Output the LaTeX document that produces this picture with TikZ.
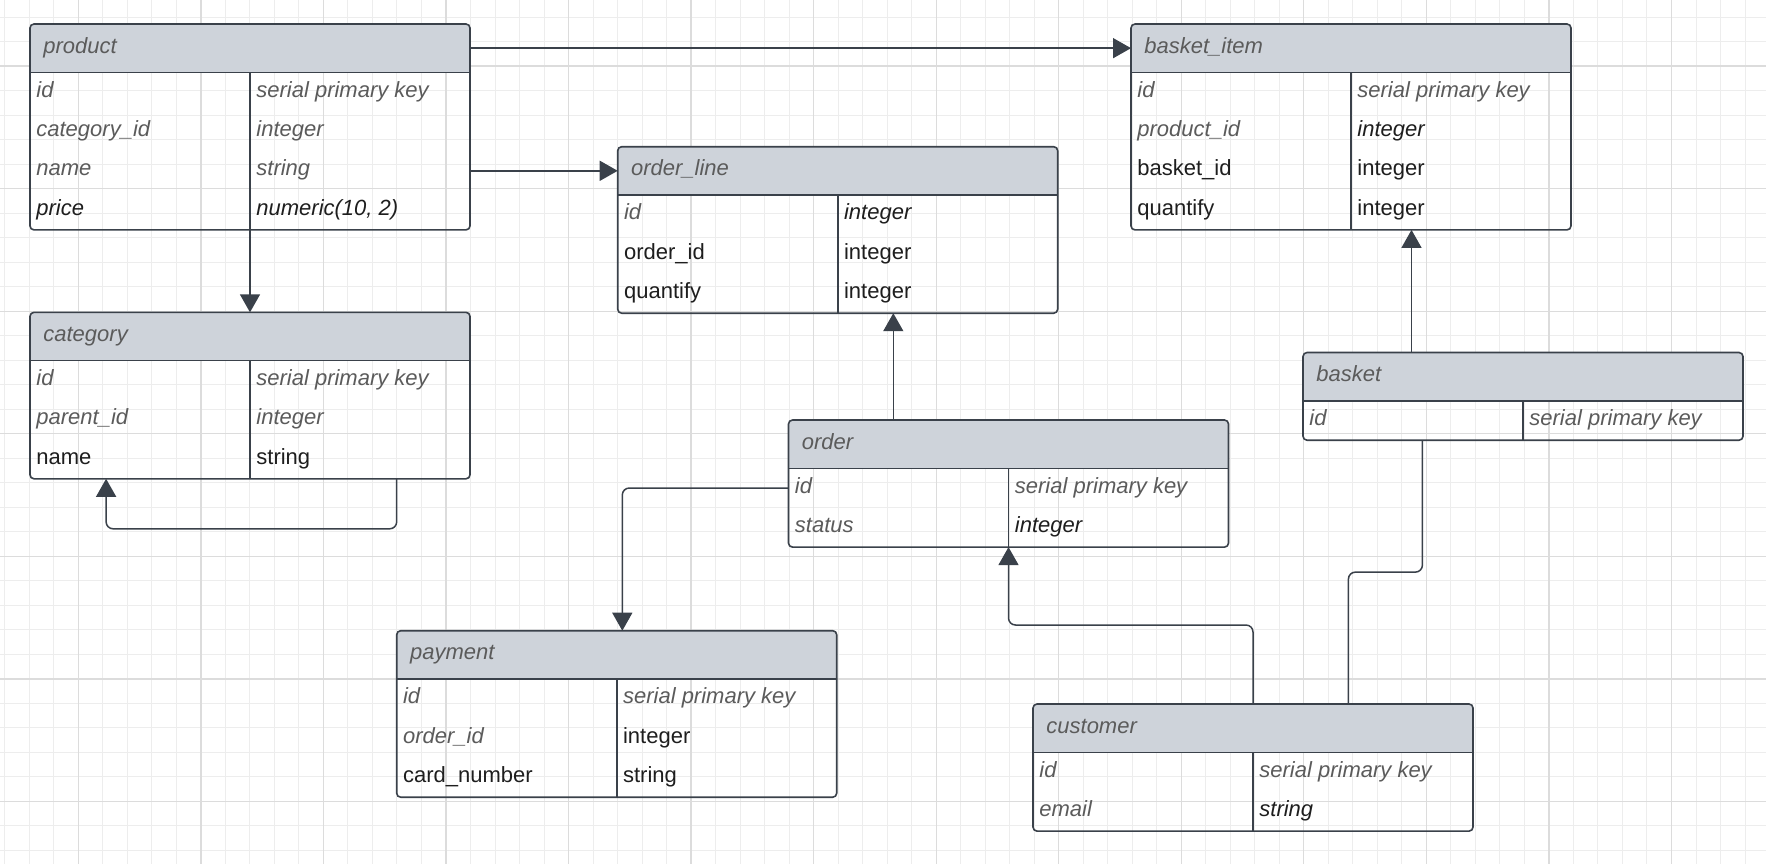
\documentclass[tikz,border=0pt]{standalone}
\usepackage{fontspec}
\setmainfont{Liberation Sans}
\usetikzlibrary{arrows.meta,calc}
\definecolor{bordc}{HTML}{3A414A}
\definecolor{hdrc}{HTML}{CED3DA}
\definecolor{gridmin}{HTML}{EDEDED}
\definecolor{gridmaj}{HTML}{DCDCDC}
\definecolor{txtgray}{HTML}{5B5B5B}
\definecolor{txtblack}{HTML}{1E1E1E}
\tikzset{
  bord/.style={draw=bordc, line width=0.8pt},
  conn/.style={draw=bordc, line width=0.75pt, rounded corners=3.5pt},
  arr/.style={-{Triangle[width=10pt,length=9pt]}},
  gi/.style={font=\itshape, text=txtgray},
  bi/.style={font=\itshape, text=txtblack},
  bn/.style={font=\upshape, text=txtblack},
  cellbox/.style={inner sep=0pt, outer sep=0pt, minimum width=220pt},
  txt/.style={inner sep=0pt, anchor=base west},
  gminor/.style={draw=gridmin, line width=0.5pt},
  gmajor/.style={draw=gridmaj, line width=0.65pt},
}
% name, x, y, rows, title
\newcommand{\entity}[5]{%
  \node[cellbox, anchor=north west, minimum height={24.15pt+19.7pt*#4}] (#1) at (#2,#3) {};
  \node[cellbox, anchor=north west, minimum height=24.15pt] (#1-h) at (#2,#3) {};
  \foreach \r in {1,...,#4}{
    \node[cellbox, anchor=north west, minimum height=19.7pt] (#1-r\r) at ($(#1-h.south west)+(0,{39.4*(\r-1)})$) {};
  }
  \begin{scope}
    \clip[rounded corners=2pt] (#1.north west) rectangle (#1.south east);
    \fill[hdrc] (#1-h.north west) rectangle (#1-h.south east);
  \end{scope}
  \draw[bord] (#1-h.south west) -- (#1-h.south east);
  \draw[bord] (#1-h.south) -- (#1.south);
  \draw[bord, rounded corners=2pt] (#1.north west) rectangle (#1.south east);
  \node[txt, gi] (#1-t) at ($(#1-h.west)+(13,5)$) {#5};
}
% table, row, left style, left text, right style, right text
\newcommand{\fld}[6]{%
  \node[txt,#3] (#1-r#2-a) at ($(#1-r#2.west)+(6,5)$) {#4};
  \node[txt,#5] (#1-r#2-b) at ($(#1-r#2.center)+(6,5)$) {#6};
}
\begin{document}
\begin{tikzpicture}[x=0.5pt, y=-0.5pt]
\fontsize{11pt}{13pt}\selectfont
\useasboundingbox (0,0) rectangle (1766,864);
\fill[white] (0,0) rectangle (1766,864);
% grid
\foreach \i in {0,...,71} \draw[gminor] ({4.8+24.51*\i},0) -- ({4.8+24.51*\i},864);
\foreach \j in {0,...,34} \draw[gminor] (0,{17.1+24.51*\j}) -- (1766,{17.1+24.51*\j});
\foreach \i in {0,...,13} \draw[gmajor] ({78.3+122.55*\i},0) -- ({78.3+122.55*\i},864);
\foreach \j in {0,...,6} \draw[gmajor] (0,{66.1+122.55*\j}) -- (1766,{66.1+122.55*\j});

% tables
\entity{product}{30}{24}{4}{product}
\fld{product}{1}{gi}{id}{gi}{serial primary key}
\fld{product}{2}{gi}{category\_id}{gi}{integer}
\fld{product}{3}{gi}{name}{gi}{string}
\fld{product}{4}{bi}{price}{bi}{numeric(10, 2)}

\entity{category}{30}{312.3}{3}{category}
\fld{category}{1}{gi}{id}{gi}{serial primary key}
\fld{category}{2}{gi}{parent\_id}{gi}{integer}
\fld{category}{3}{bn}{name}{bn}{string}

\entity{orderline}{617.7}{146.7}{3}{order\_line}
\fld{orderline}{1}{gi}{id}{bi}{integer}
\fld{orderline}{2}{bn}{order\_id}{bn}{integer}
\fld{orderline}{3}{bn}{quantify}{bn}{integer}

\entity{basketitem}{1131}{24}{4}{basket\_item}
\fld{basketitem}{1}{gi}{id}{gi}{serial primary key}
\fld{basketitem}{2}{gi}{product\_id}{bi}{integer}
\fld{basketitem}{3}{bn}{basket\_id}{bn}{integer}
\fld{basketitem}{4}{bn}{quantify}{bn}{integer}

\entity{basket}{1303}{352.5}{1}{basket}
\fld{basket}{1}{gi}{id}{gi}{serial primary key}

\entity{order}{788.5}{420}{2}{order}
\fld{order}{1}{gi}{id}{gi}{serial primary key}
\fld{order}{2}{gi}{status}{bi}{integer}

\entity{payment}{396.7}{630.7}{3}{payment}
\fld{payment}{1}{gi}{id}{gi}{serial primary key}
\fld{payment}{2}{gi}{order\_id}{bn}{integer}
\fld{payment}{3}{bn}{card\_number}{bn}{string}

\entity{customer}{1033}{704}{2}{customer}
\fld{customer}{1}{gi}{id}{gi}{serial primary key}
\fld{customer}{2}{gi}{email}{bi}{string}

% connectors
\draw[conn, arr] (product-h.east) -- (basketitem-h.west);
\draw[conn, arr] (product-r3.east) -- (product-r3.east -| orderline-h.west);
\draw[conn, arr] (product.south) -- (category.north);

\coordinate (catA) at ($(category.south)+(146.7,0)$);
\coordinate (catB) at ($(category.south)+(-143.9,0)$);
\coordinate (catC) at ($(catA)+(0,50)$);
\draw[conn, arr] (catA) -- (catC) -| (catB);

\coordinate (ordUp) at ($(order.north west)+(104.8,0)$);
\draw[conn, arr] (ordUp) -- (ordUp |- orderline.south);

\coordinate (payIn) at ($(payment.north)+(5.6,0)$);
\draw[conn, arr] (order-r1.west) -| (payIn);

\coordinate (custBend) at ($(customer.north)+(0,-79)$);
\draw[conn, arr] (customer.north) -- (custBend) -| (order.south);

\coordinate (custB) at ($(customer.north west)+(315.4,0)$);
\coordinate (basB) at ($(basket.south west)+(119.4,0)$);
\draw[conn] (custB) |- ($(custB)!0.5!(basB)$) -| (basB);

\coordinate (basUp) at ($(basket.north west)+(108.5,0)$);
\draw[conn, arr] (basUp) -- (basUp |- basketitem.south);
\end{tikzpicture}
\end{document}
